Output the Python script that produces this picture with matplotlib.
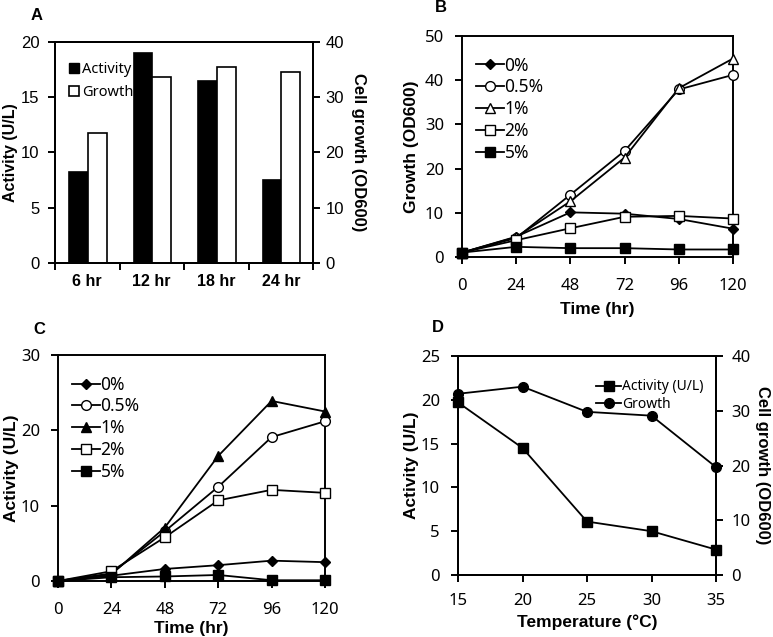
import numpy as np
import matplotlib
matplotlib.use("Agg")
import matplotlib.pyplot as plt
from matplotlib.lines import Line2D

# Panel A: sampling time
timeLabels = ["6 hr", "12 hr", "18 hr", "24 hr"]
activityA = [8.2, 19.0, 16.5, 7.5]
growthA = [23.6, 33.6, 35.4, 34.6]

# Panels B and C: culture time courses
hours = [0, 24, 48, 72, 96, 120]
concLabels = ["0%", "0.5%", "1%", "2%", "5%"]
growthB = [
    [1.0, 4.6, 10.1, 9.8, 8.6, 6.4],
    [1.0, 4.3, 14.1, 24.0, 37.9, 41.2],
    [1.0, 4.5, 12.6, 22.5, 38.2, 44.9],
    [1.0, 3.8, 6.5, 9.1, 9.3, 8.7],
    [1.0, 2.3, 2.0, 2.0, 1.7, 1.7],
]
activityC = [
    [0.0, 0.7, 1.6, 2.1, 2.7, 2.5],
    [0.0, 1.0, 6.6, 12.5, 19.1, 21.2],
    [0.0, 0.9, 7.1, 16.6, 23.9, 22.5],
    [0.0, 1.3, 5.8, 10.7, 12.1, 11.7],
    [0.0, 0.5, 0.6, 0.8, 0.1, 0.1],
]

# Panel D: temperature
temps = [15, 20, 25, 30, 35]
activityD = [19.7, 14.5, 6.1, 5.0, 2.9]
growthD = [33.1, 34.4, 29.8, 29.1, 19.7]

W, H = 773, 637
TICKFONT = "Noto Sans"
LABELFONT = "Liberation Sans"


def rect(l, t, r, b):
    return [l / W, 1 - b / H, (r - l) / W, (b - t) / H]


def style(ax, tickfont=TICKFONT, size=12, xpad=10, ypad=8):
    for s in ax.spines.values():
        s.set_linewidth(1.4)
        s.set_color("black")
    ax.tick_params(direction="out", length=5, width=1.4, labelsize=size)
    ax.tick_params(axis="x", pad=xpad)
    ax.tick_params(axis="y", pad=ypad)
    for lab in ax.get_xticklabels() + ax.get_yticklabels():
        lab.set_fontfamily(tickfont)


def bold(size):
    return dict(fontfamily=LABELFONT, fontweight="bold", fontsize=size)


def panelLetter(x, y, letter):
    fig.text(x / W, 1 - y / H, letter, va="center", **bold(12))


fig = plt.figure(figsize=(W / 100, H / 100), dpi=100)

# ---------------- Panel A ----------------
ax = fig.add_axes(rect(55, 42, 313, 263))
x = np.arange(len(timeLabels))
bw = 0.29
ax.bar(x - bw / 2 + 0.01, activityA, bw, color="black", edgecolor="black", lw=1.2)
ax2 = ax.twinx()
ax2.bar(x + bw / 2 + 0.01, growthA, bw, color="white", edgecolor="black", lw=1.2)
ax.set_xlim(-0.5, 3.5)
ax.set_ylim(0, 20)
ax2.set_ylim(0, 40)
ax.set_yticks([0, 5, 10, 15, 20])
ax2.set_yticks([0, 10, 20, 30, 40])
ax.set_xticks(np.arange(-0.5, 4, 1))
ax.set_xticklabels([])
ax.set_xticks(x, minor=True)
ax.set_xticklabels(timeLabels, minor=True, **bold(11.5))
style(ax, tickfont=LABELFONT, size=12, ypad=6)
style(ax2, tickfont=LABELFONT, size=12, ypad=4)
ax.tick_params(axis="x", which="minor", length=0, pad=8)
ax.set_ylabel("Activity (U/L)", labelpad=2, **bold(11.5))
ax2.set_ylabel("Cell growth (OD600)", rotation=270, labelpad=16, **bold(12))
handlesA = [
    Line2D([], [], ls="none", marker="s", ms=7.5, mfc="black", mec="black"),
    Line2D([], [], ls="none", marker="s", ms=7.5, mfc="white", mec="black", mew=1.2),
]
ax.legend(handlesA, ["Activity", "Growth"], loc="upper left", frameon=False,
          bbox_to_anchor=(0.0, 0.97), handlelength=0.8, handletextpad=0.15,
          labelspacing=0.55, prop={"family": TICKFONT, "size": 10.5})
panelLetter(31, 15, "A")

# ---------------- shared line styles for B and C ----------------
markers = ["D", "o", "^", "s", "s"]
msizes = [5.5, 7, 7.5, 7, 7]


def lines(ax, data, filledTriangle):
    fills = ["black", "white", "black" if filledTriangle else "white", "white", "black"]
    for i, ys in enumerate(data):
        ax.plot(hours, ys, color="black", lw=1.3, marker=markers[i],
                ms=msizes[i], mfc=fills[i], mec="black", mew=1.0,
                label=concLabels[i], clip_on=False, zorder=3)


def concLegend(ax):
    ax.legend(loc="upper left", frameon=False, bbox_to_anchor=(0.0, 0.97),
              handlelength=1.6, handletextpad=0.05, labelspacing=0.22,
              borderaxespad=0.4, prop={"family": TICKFONT, "size": 12.5})


# ---------------- Panel B ----------------
ax = fig.add_axes(rect(462, 36, 733, 257))
lines(ax, growthB, False)
ax.set_xlim(0, 120)
ax.set_ylim(0, 50)
ax.set_xticks(hours)
ax.set_yticks([0, 10, 20, 30, 40, 50])
style(ax)
ax.set_xlabel("Time (hr)", labelpad=6, **bold(12.5))
ax.set_ylabel("Growth (OD600)", labelpad=4, **bold(12.5))
concLegend(ax)
panelLetter(435, 8, "B")

# ---------------- Panel C ----------------
ax = fig.add_axes(rect(58, 355, 325, 581))
lines(ax, activityC, True)
ax.set_xlim(0, 120)
ax.set_ylim(0, 30)
ax.set_xticks(hours)
ax.set_yticks([0, 10, 20, 30])
style(ax)
ax.set_xlabel("Time (hr)", labelpad=2, **bold(12.5))
ax.set_ylabel("Activity (U/L)", labelpad=1, **bold(12.5))
concLegend(ax)
panelLetter(33, 330, "C")

# ---------------- Panel D ----------------
ax = fig.add_axes(rect(458, 356, 716, 575))
ax2 = ax.twinx()
la, = ax.plot(temps, activityD, color="black", lw=1.3, marker="s", ms=7,
              mfc="black", mec="black", clip_on=False, zorder=3)
lg, = ax2.plot(temps, growthD, color="black", lw=1.3, marker="o", ms=7,
               mfc="black", mec="black", clip_on=False, zorder=3)
ax.set_xlim(15, 35)
ax.set_ylim(0, 25)
ax2.set_ylim(0, 40)
ax.set_xticks(temps)
ax.set_yticks([0, 5, 10, 15, 20, 25])
ax2.set_yticks([0, 10, 20, 30, 40])
style(ax, xpad=8)
style(ax2, ypad=6)
ax.set_xlabel("Temperature (\u00b0C)", labelpad=4, **bold(12.5))
ax.set_ylabel("Activity (U/L)", labelpad=1, **bold(12.5))
ax2.set_ylabel("Cell growth (OD600)", rotation=270, labelpad=14, **bold(12))
ax2.legend([la, lg], ["Activity (U/L)", "Growth"], loc="upper right",
           frameon=False, bbox_to_anchor=(1.0, 0.95), handlelength=1.8,
           handletextpad=0.05, labelspacing=0.15,
           prop={"family": TICKFONT, "size": 10})
panelLetter(432, 327, "D")

plt.savefig("out.png", dpi=100, facecolor="w")
